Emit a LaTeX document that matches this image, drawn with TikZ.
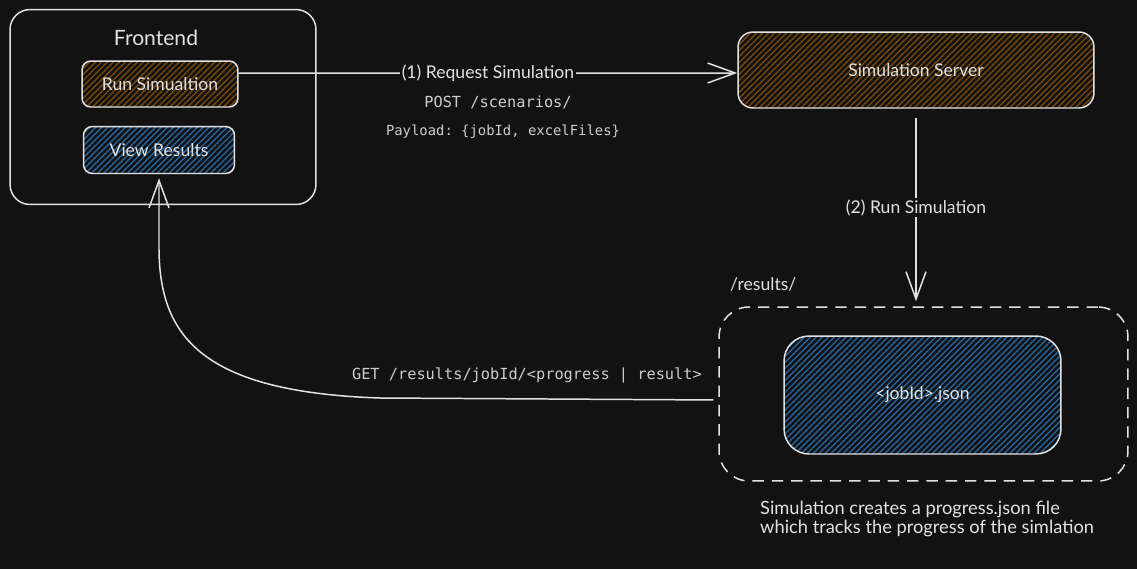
\documentclass[tikz,border=0pt]{standalone}
\usepackage{fontspec}
\setmainfont{Lato}
\setmonofont{DejaVu Sans Mono}
\usetikzlibrary{arrows.meta, patterns.meta, positioning}
\definecolor{bgcol}{RGB}{18, 18, 18}
\definecolor{inkcol}{RGB}{226, 226, 226}
\definecolor{codecol}{RGB}{205, 205, 205}
\definecolor{orangecol}{RGB}{118, 72, 12}
\definecolor{bluecol}{RGB}{40, 100, 155}
\tikzset{
  hand/.style      = {font=\fontsize{10}{12}\selectfont, text=inkcol},
  code/.style      = {font=\ttfamily\fontsize{8.7}{10}\selectfont, text=codecol},
  box/.style       = {draw=inkcol, line width=0.85pt, rounded corners=5pt,
                      hand, inner sep=0pt},
  hatch/.style     = {pattern={Lines[angle=45, distance=2.4pt, line width=0.8pt]}},
  orangebox/.style = {box, hatch, pattern color=orangecol},
  bluebox/.style   = {box, hatch, pattern color=bluecol},
  group/.style     = {draw=inkcol, line width=0.85pt, inner sep=0pt},
  % the results folder is only a place on disk, so it gets a dashed edge
  dashgroup/.style = {group, dash pattern=on 6.5pt off 4.5pt},
  flow/.style      = {-{Straight Barb[length=5.5mm, width=4mm]}, draw=inkcol,
                      line width=0.85pt},
  onflow/.style    = {hand, fill=bgcol, inner sep=1pt},
}

\begin{document}
\begin{tikzpicture}[x=0.02cm, y=-0.02cm, font=\fontsize{10}{12}\selectfont]

  \fill[bgcol] (0,0) rectangle (1137,569);
  \useasboundingbox (0,0) rectangle (1137,569);

  %% ================ frontend ================
  \node[group, rounded corners=0.4cm, minimum width=6.12cm, minimum height=3.9cm]
       (frontend) at (163,107) {};
  \node[hand, font=\fontsize{12}{14}\selectfont] (fetitle) at (156,38) {Frontend};

  \node[orangebox, minimum width=3.12cm, minimum height=0.92cm] (runsim)
       at (160,84) {Run Simualtion};
  \node[bluebox, minimum width=3.02cm, minimum height=0.94cm] (viewres)
       at (159,150) {View Results};

  %% ================ server ================
  \node[orangebox, rounded corners=0.3cm, minimum width=7.12cm,
        minimum height=1.52cm] (server) at (916,70) {Simulation Server};

  \draw[flow] ([yshift=0.22cm]runsim.east) --
       node[onflow] {(1) Request Simulation} ([yshift=-0.06cm]server.west);

  \node[code] (post) at (498,102) {POST /scenarios/};
  \node[code, font=\ttfamily\fontsize{7.9}{9}\selectfont] (payload)
       at (503,132) {Payload: \{jobId, excelFiles\}};

  %% ================ results on disk ================
  \node[group, dashgroup, rounded corners=0.6cm, minimum width=8.18cm,
        minimum height=3.48cm] (results) at (923.5,394) {};
  \node[hand, font=\fontsize{10}{12}\selectfont, anchor=west] (resdir)
       at (724,284) {/results/};

  \node[bluebox, rounded corners=0.5cm, minimum width=5.54cm,
        minimum height=2.36cm] (jobjson) at (922.5,395) {<jobId>.json};

  \draw[flow, shorten <=0.18cm, shorten >=0.1cm] (server.south) --
       node[onflow] {(2) Run Simulation} (results.north -| server.south);

  \node[hand, align=left, anchor=west, font=\fontsize{10.4}{10.8}\selectfont]
       (notes) at (754,519)
       {Simulation creates a progress.json file\\
        which tracks the progress of the simlation};

  %% ---------------- polling back ----------------
  \draw[flow, shorten <=0.1cm, shorten >=0.08cm] ([yshift=-0.12cm]results.west)
       -- (380,398) .. controls (200,392) and (160,335) .. (159,250)
       -- (viewres.south);
  \node[code, anchor=east] (getreq) at (708,375)
       {GET /results/jobId/<progress | result>};

\end{tikzpicture}
\end{document}
